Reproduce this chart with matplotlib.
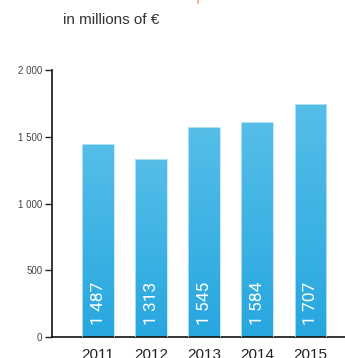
import numpy as np
import matplotlib
matplotlib.use("Agg")
import matplotlib.pyplot as plt
from matplotlib.patches import Rectangle

# data
years = ["2011", "2012", "2013", "2014", "2015"]
values = [1487, 1313, 1545, 1584, 1707]          # printed labels
bar_heights = [1449, 1337, 1574, 1612, 1744]     # heights as drawn
yticks = [0, 500, 1000, 1500, 2000]
ytick_labels = ["0", "500", "1 000", "1 500", "2 000"]

plt.rcParams["font.family"] = ["Liberation Sans", "DejaVu Sans"]

fig = plt.figure(figsize=(3.45, 3.58), dpi=100)
ax = fig.add_axes([52 / 345, 21 / 358, 293 / 345, 267 / 358])

x = np.arange(len(years))
width = 0.6

# vertical gradient, light at top, deeper at bottom
grad = np.linspace(0, 1, 256).reshape(-1, 1)
cmap = matplotlib.colors.LinearSegmentedColormap.from_list(
    "blue", ["#27a7df", "#55bee9"])

for xi, h in zip(x, bar_heights):
    rect = Rectangle((xi - width / 2, 0), width, h, facecolor="none",
                     edgecolor="#bfe6f7", linewidth=0.6, zorder=3)
    ax.add_patch(rect)
    im = ax.imshow(grad, extent=[xi - width / 2, xi + width / 2, 0, h],
                   origin="lower", cmap=cmap, aspect="auto", zorder=2)
    im.set_clip_path(rect)

for xi, v in zip(x, values):
    s = f"{v:,}".replace(",", " ")
    ax.annotate(s, (xi, 0), xytext=(0, 12), textcoords="offset pixels",
                rotation=90, ha="center", va="bottom", color="white",
                fontsize=12.5, family=["Roboto", "DejaVu Sans"],
                fontweight="normal", zorder=4)

ax.set_xlim(-0.866, 4.65)
ax.set_ylim(0, 2000)
ax.set_xticks(x)
ax.set_xticklabels(years, fontsize=11, color="#222222")
ax.tick_params(axis="x", length=0, pad=8)
ax.set_yticks(yticks)
ax.set_yticklabels(ytick_labels, fontsize=7, color="#444444")
ax.tick_params(axis="y", length=5, width=1, pad=2, color="#222222")

for side in ["top", "right"]:
    ax.spines[side].set_visible(False)
for side in ["left", "bottom"]:
    ax.spines[side].set_linewidth(1.2)
    ax.spines[side].set_color("#111111")

fig.text(63 / 345, 1 - 20 / 358, "in millions of €", fontsize=11,
         color="#333333", ha="left", va="center")
# small orange fragment at the top edge
fig.add_artist(plt.Line2D([198 / 345, 198 / 345], [1, 1 - 2.5 / 358],
                          color="#f4a27a", linewidth=1.2))

fig.savefig("out.png", dpi=100)
